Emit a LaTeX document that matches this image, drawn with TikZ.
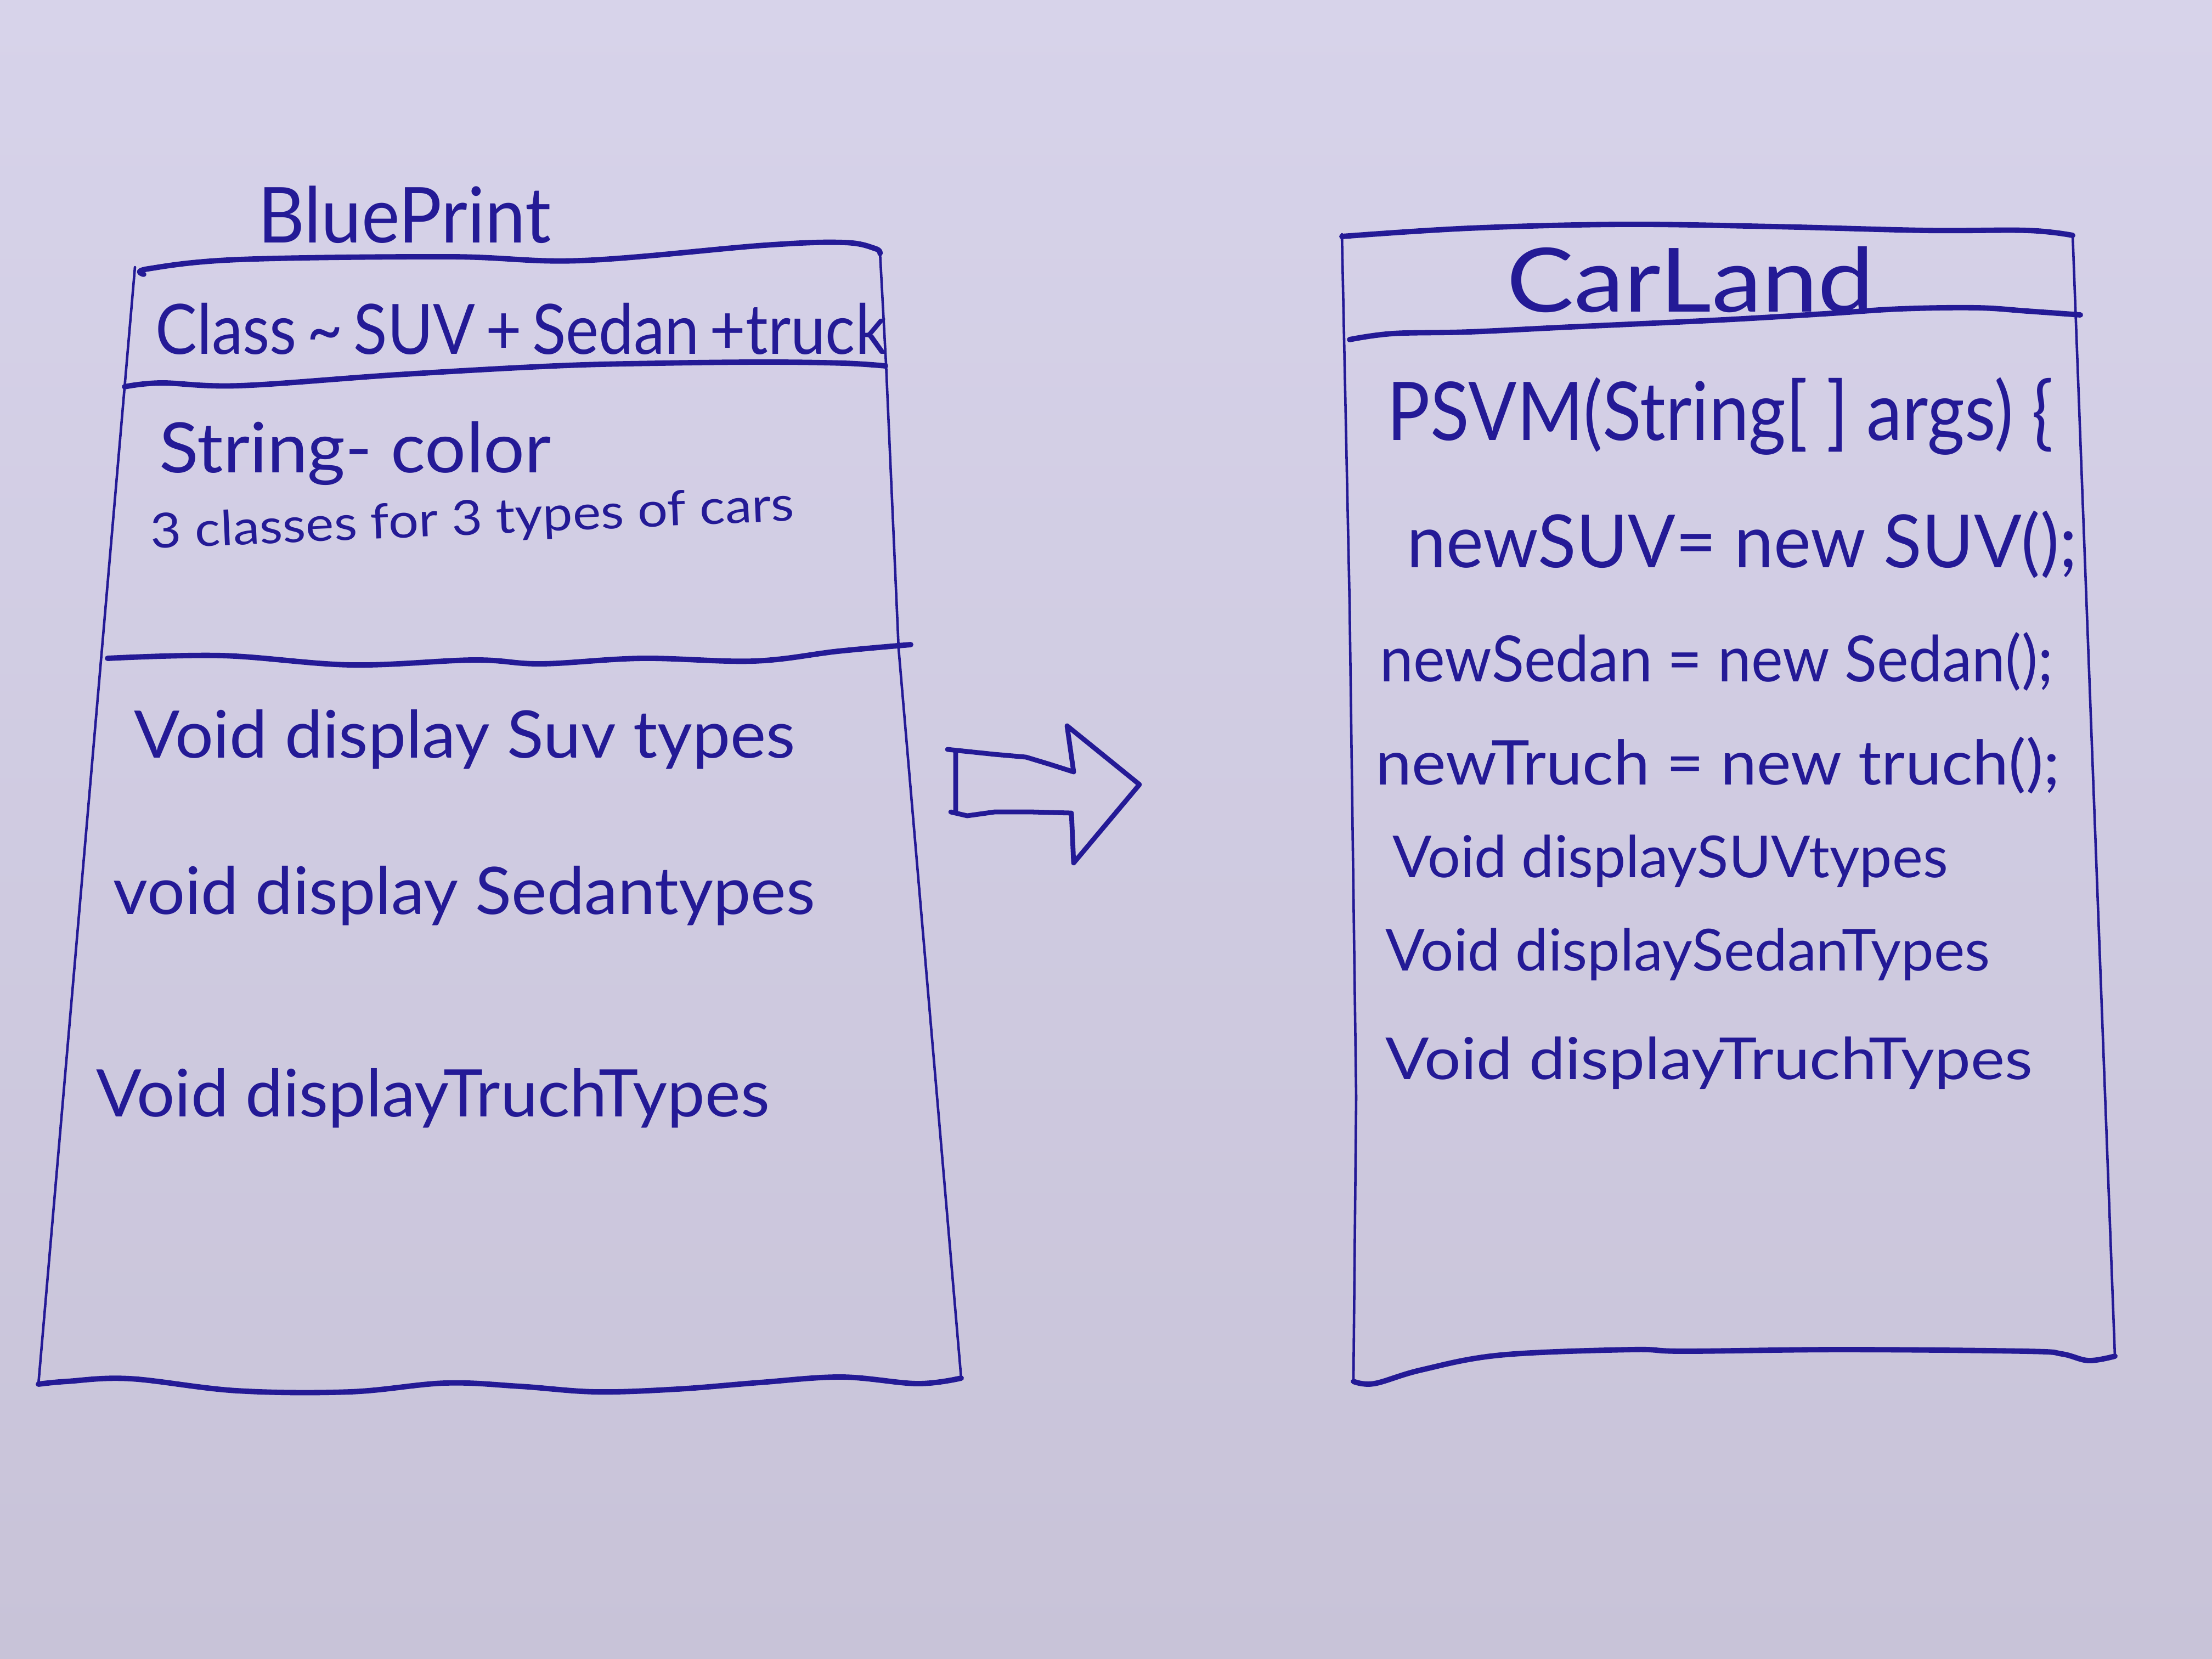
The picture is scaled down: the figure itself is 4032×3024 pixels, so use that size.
\documentclass[tikz,border=0pt]{standalone}
\usepackage{fontspec}
\setmainfont{Lato}
\usepackage{graphicx}
\definecolor{ink}{RGB}{36,26,150}
\definecolor{paperTop}{RGB}{215,211,234}
\definecolor{paperBot}{RGB}{200,195,216}
\newcommand{\hwtext}[2]{\resizebox{#1}{\height}{#2}}
\tikzset{
  side/.style={draw=ink, line width=1.3pt, line cap=round, line join=round},
  rule/.style={draw=ink, line width=2.8pt, line cap=round, line join=round},
  hand/.style={text=ink, inner sep=0pt, anchor=base west},
  blockarrow/.style={draw=ink, line width=2.5pt, line cap=round, line join=round},
}
\begin{document}
\begin{tikzpicture}[x=0.01cm, y=-0.01cm]
\fill[top color=paperTop, bottom color=paperBot] (0,0) rectangle (4032,3024);
\useasboundingbox (0,0) rectangle (4032,3024);

% ---------- left box (BluePrint) ----------
\draw[side] (246,487) -- (70,2523);
\draw[side] (1604,460) -- (1615,663) -- (1638,1183) -- (1752,2512);
\draw[rule] plot[smooth, tension=0.6] coordinates {(262,500) (270,490) (437,473) (820,468) (1059,475) (1394,447) (1538,442) (1595,453) (1604,462)};
\draw[rule] plot[smooth, tension=0.6] coordinates {(227,705) (294,698) (437,703) (724,683) (1011,667) (1203,662) (1394,660) (1538,662) (1614,667)};
\draw[rule] plot[smooth, tension=0.6] coordinates {(196,1200) (405,1195) (640,1212) (864,1203) (987,1210) (1170,1200) (1374,1205) (1528,1187) (1660,1175)};
\draw[rule] plot[smooth, tension=0.6] coordinates {(70,2523) (122,2518) (237,2513) (432,2535) (638,2537) (811,2521) (948,2527) (1086,2537) (1235,2532) (1385,2520) (1534,2510) (1672,2522) (1752,2512)};

\node[hand, font=\fontsize{40}{44}\selectfont] (bptitle) at (470,442) {\hwtext{5.33cm}{BluePrint}};
\node[hand, font=\fontsize{36}{40}\selectfont] (bpclass) at (283,645) {\hwtext{13.32cm}{Class\,\textasciitilde\,SUV\,+\,Sedan\,+truck}};
\node[hand, font=\fontsize{36}{40}\selectfont] (bpattr) at (290,861) {\hwtext{7.13cm}{String- color}};
\node[hand, font=\fontsize{25}{28}\selectfont, rotate=2.5] (bpnote) at (275,1000) {\hwtext{11.73cm}{3 classes for 3 types of cars}};
\node[hand, font=\fontsize{34}{38}\selectfont] (bpm1) at (244,1381) {\hwtext{12.04cm}{Void display Suv types}};
\node[hand, font=\fontsize{34}{38}\selectfont] (bpm2) at (206,1666) {\hwtext{12.78cm}{void display Sedantypes}};
\node[hand, font=\fontsize{34}{38}\selectfont] (bpm3) at (175,2035) {\hwtext{12.26cm}{Void displayTruchTypes}};

% ---------- block arrow ----------
\draw[blockarrow] (1742,1478) -- (1742,1372) (1727,1366) -- (1813,1375) -- (1870,1380) -- (1913,1393) -- (1957,1407)
  -- (1945,1323) -- (2077,1430) -- (1957,1573) -- (1953,1482)
  -- (1880,1480) -- (1813,1480) -- (1763,1487) -- (1733,1480);

% ---------- right box (CarLand) ----------
\draw[side] (2446,427) -- (2460,1100) -- (2472,2000) -- (2467,2518);
\draw[side] (3778,429) -- (3855,2472);
\draw[rule] plot[smooth, tension=0.6] coordinates {(2446,431) (2678,416) (2955,409) (3233,413) (3510,420) (3695,420) (3778,429)};
\draw[rule] plot[smooth, tension=0.6] coordinates {(2460,619) (2539,608) (2678,605) (2862,596) (3140,583) (3325,572) (3464,563) (3603,561) (3695,567) (3792,574)};
\draw[rule] plot[smooth, tension=0.6] coordinates {(2467,2518) (2505,2522) (2591,2497) (2735,2470) (2974,2460) (3070,2463) (3357,2460) (3692,2463) (3759,2468) (3807,2480) (3855,2472)};

\node[hand, font=\fontsize{46}{50}\selectfont] (cltitle) at (2746,568) {\hwtext{6.69cm}{CarLand}};
\node[hand, font=\fontsize{42}{46}\selectfont] (cl1) at (2528,802) {\hwtext{12.13cm}{PSVM(String[ ] args) \{}};
\node[hand, font=\fontsize{38}{42}\selectfont] (cl2) at (2564,1034) {\hwtext{12.21cm}{newSUV= new SUV();}};
\node[hand, font=\fontsize{33}{36}\selectfont] (cl3) at (2515,1242) {\hwtext{12.26cm}{newSedan = new Sedan();}};
\node[hand, font=\fontsize{32}{36}\selectfont] (cl4) at (2507,1430) {\hwtext{12.47cm}{newTruch = new truch();}};
\node[hand, font=\fontsize{30}{34}\selectfont] (cl5) at (2538,1599) {\hwtext{10.11cm}{Void displaySUVtypes}};
\node[hand, font=\fontsize{30}{34}\selectfont] (cl6) at (2525,1769) {\hwtext{11.01cm}{Void displaySedanTypes}};
\node[hand, font=\fontsize{30}{34}\selectfont] (cl7) at (2525,1967) {\hwtext{11.78cm}{Void displayTruchTypes}};
\end{tikzpicture}
\end{document}
